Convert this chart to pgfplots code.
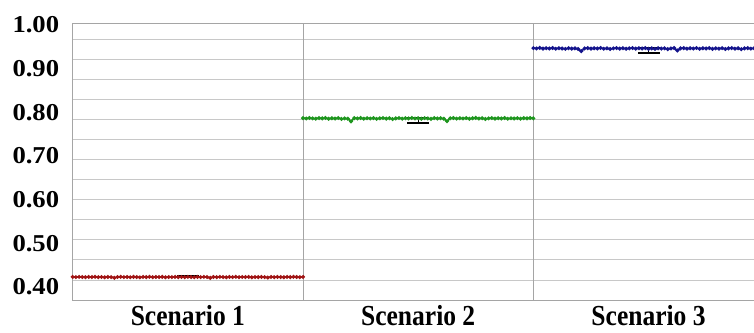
\documentclass[border=0pt]{standalone}
\usepackage{pgfplots}
\pgfplotsset{compat=1.18}
\usepackage{fontspec}
\setmainfont{Liberation Serif}
\newfontfamily\yfont[FakeStretch=1.1]{Liberation Serif}
\newfontfamily\xfont[FakeStretch=0.88]{Liberation Serif}
\definecolor{sred}{RGB}{160,20,20}
\definecolor{sgreen}{RGB}{30,150,30}
\definecolor{sblue}{RGB}{20,20,140}
\definecolor{gridgray}{RGB}{200,200,200}
\definecolor{axisgray}{RGB}{165,165,165}
\begin{document}
\begin{tikzpicture}
\useasboundingbox (-72.7pt,-32pt) rectangle (681.3pt,300pt);
\begin{axis}[
  at={(0,0)}, anchor=south west,
  scale only axis, width=691pt, height=277pt,
  xmin=0, xmax=216, ymin=0.3702, ymax=1.0045,
  axis line style={draw=axisgray, line width=0.8pt},
  major tick length=0pt, minor tick length=0pt,
  xtick={36,108,180},
  xticklabels={Scenario 1,Scenario 2,Scenario 3},
  xticklabel style={font={\xfont\bfseries\fontsize{29}{30}\selectfont}, anchor=base, inner sep=0pt, yshift=-25.5pt},
  ytick={0.4,0.5,0.6,0.7,0.8,0.9,1.0},
  yticklabels={0.40,0.50,0.60,0.70,0.80,0.90,1.00},
  yticklabel style={font={\yfont\bfseries\fontsize{24.2}{25}\selectfont}, anchor=east, inner sep=0pt, xshift=-13.4pt},
  minor ytick={0.9679,0.9219,0.8759,0.8299,0.7840,0.7380,0.6920,0.6460,0.6000,0.5541,0.5081,0.4621,0.4161},
  yminorgrids=true, ymajorgrids=false,
  minor grid style={draw=gridgray, line width=0.8pt},
  extra x ticks={72,144}, extra x tick labels={},
  extra x tick style={grid=major, major grid style={draw=axisgray, line width=0.8pt}},
]
\addplot[sred, line width=1.7pt, mark=*, mark size=1pt] coordinates {
(0,.4230)(1,.4226)(2,.4232)(3,.4228)(4,.4224)(5,.4231)(6,.4227)(7,.4233)(8,.4225)(9,.4229)
(10,.4222)(11,.4230)(12,.4226)(13,.4210)(14,.4228)(15,.4232)(16,.4225)(17,.4229)(18,.4223)(19,.4231)
(20,.4227)(21,.4220)(22,.4230)(23,.4226)(24,.4233)(25,.4224)(26,.4229)(27,.4227)(28,.4231)(29,.4222)
(30,.4228)(31,.4225)(32,.4230)(33,.4226)(34,.4229)(35,.4224)(36,.4231)(37,.4227)(38,.4223)(39,.4230)
(40,.4226)(41,.4232)(42,.4228)(43,.4208)(44,.4229)(45,.4225)(46,.4231)(47,.4227)(48,.4222)(49,.4230)
(50,.4226)(51,.4233)(52,.4224)(53,.4229)(54,.4227)(55,.4231)(56,.4221)(57,.4228)(58,.4225)(59,.4230)
(60,.4226)(61,.4215)(62,.4229)(63,.4224)(64,.4231)(65,.4227)(66,.4223)(67,.4230)(68,.4226)(69,.4232)
(70,.4228)(71,.4225)(72,.4229)
};
\addplot[sgreen, line width=1.7pt, mark=*, mark size=1pt] coordinates {
(72,.7866)(73,.7858)(74,.7870)(75,.7861)(76,.7855)(77,.7868)(78,.7860)(79,.7872)(80,.7852)(81,.7864)
(82,.7857)(83,.7869)(84,.7848)(85,.7862)(86,.7855)(87,.7790)(88,.7866)(89,.7859)(90,.7871)(91,.7853)
(92,.7865)(93,.7858)(94,.7868)(95,.7850)(96,.7863)(97,.7870)(98,.7856)(99,.7866)(100,.7845)(101,.7861)
(102,.7869)(103,.7854)(104,.7866)(105,.7860)(106,.7871)(107,.7858)(108,.7864)(109,.7852)(110,.7867)(111,.7860)
(112,.7849)(113,.7868)(114,.7857)(115,.7865)(116,.7853)(117,.7795)(118,.7862)(119,.7870)(120,.7855)(121,.7864)
(122,.7858)(123,.7869)(124,.7851)(125,.7863)(126,.7872)(127,.7857)(128,.7866)(129,.7848)(130,.7861)(131,.7869)
(132,.7855)(133,.7865)(134,.7859)(135,.7870)(136,.7852)(137,.7864)(138,.7858)(139,.7867)(140,.7854)(141,.7866)
(142,.7860)(143,.7869)(144,.7862)
};
\addplot[sblue, line width=1.7pt, mark=*, mark size=1pt] coordinates {
(144,.9470)(145,.9462)(146,.9474)(147,.9458)(148,.9468)(149,.9460)(150,.9472)(151,.9455)(152,.9467)(153,.9461)
(154,.9452)(155,.9469)(156,.9457)(157,.9465)(158,.9449)(159,.9400)(160,.9463)(161,.9471)(162,.9458)(163,.9467)
(164,.9460)(165,.9473)(166,.9456)(167,.9466)(168,.9450)(169,.9464)(170,.9471)(171,.9459)(172,.9468)(173,.9455)
(174,.9465)(175,.9472)(176,.9458)(177,.9467)(178,.9461)(179,.9470)(180,.9453)(181,.9464)(182,.9450)(183,.9468)
(184,.9459)(185,.9466)(186,.9448)(187,.9462)(188,.9471)(189,.9415)(190,.9463)(191,.9469)(192,.9457)(193,.9466)
(194,.9460)(195,.9472)(196,.9454)(197,.9467)(198,.9461)(199,.9470)(200,.9452)(201,.9465)(202,.9458)(203,.9469)
(204,.9450)(205,.9464)(206,.9471)(207,.9457)(208,.9466)(209,.9445)(210,.9463)(211,.9470)(212,.9458)(213,.9467)
(214,.9461)(215,.9469)(216,.9465)
};
\addplot[draw=none, mark=none,
  error bars/.cd, y dir=both, y explicit,
  error bar style={black, line width=1.2pt},
  error mark options={black, rotate=90, mark size=11pt, line width=1.8pt}]
  coordinates {
  (36,0.4232) +- (0,0.0012)
  (108,0.7813) +- (0,0.0064)
  (180,0.9416) +- (0,0.0064)
};
\end{axis}
\end{tikzpicture}
\end{document}
